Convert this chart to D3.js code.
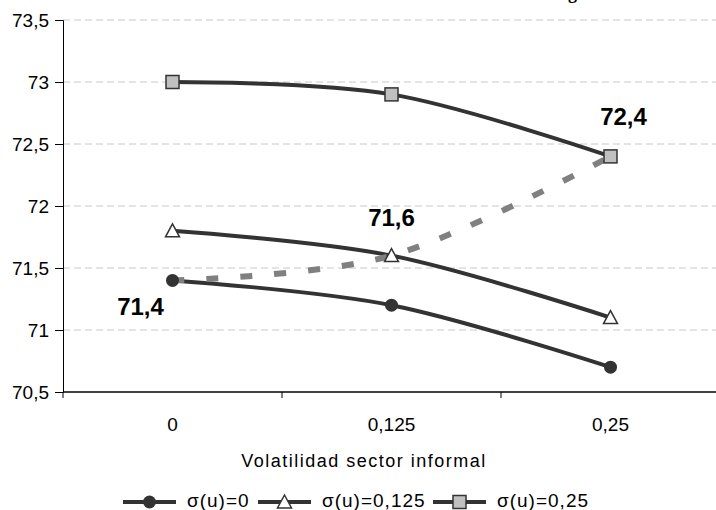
<!DOCTYPE html>
<html>
<head>
<meta charset="utf-8">
<script src="https://cdn.jsdelivr.net/npm/d3@7"></script>
<style>
  body { margin: 0; background: #fff; }
  text { font-family: "Liberation Sans", Arial, sans-serif; fill: #000; }
</style>
</head>
<body>
<div id="chart"></div>
<script>
// data
const categories = ["0", "0,125", "0,25"];
const seriesNames = ["σ(u)=0", "σ(u)=0,125", "σ(u)=0,25"];
const sigma0 = [71.4, 71.2, 70.7];
const sigma0125 = [71.8, 71.6, 71.1];
const sigma025 = [73.0, 72.9, 72.4];
const diagonal = [71.4, 71.6, 72.4];           // dashed grey line
const diagLabels = ["71,4", "71,6", "72,4"];
const yTicks = [70.5, 71, 71.5, 72, 72.5, 73, 73.5];

var W = 716, H = 510;
var margin = {top: 20, right: -4, bottom: 118, left: 63},
    width = W - margin.left - margin.right,
    height = H - margin.top - margin.bottom;

var svg = d3.select("#chart")
    .append("svg")
    .attr("width", W)
    .attr("height", H);

var g = svg.append("g")
    .attr("transform", "translate(" + margin.left + "," + margin.top + ")");

// cut off title from the top of the page
svg.append("text")
    .attr("x", 568)
    .attr("y", -1)
    .style("font-family", "'Liberation Serif', serif")
    .style("font-weight", "bold")
    .style("font-size", "18px")
    .text("g");

const x = d3.scaleBand()
    .domain(categories)
    .range([0, width]);
const y = d3.scaleLinear()
    .domain([70.5, 73.5])
    .range([height, 0]);

const fmt = d => String(d).replace(".", ",");

// grid
g.append("g")
  .selectAll("line")
  .data(yTicks.filter(d => d > 70.5))
  .enter().append("line")
    .attr("x1", 0)
    .attr("x2", width)
    .attr("y1", d => y(d))
    .attr("y2", d => y(d))
    .attr("stroke", "#c8c8c8")
    .attr("stroke-width", 1)
    .attr("stroke-dasharray", "7,4");

// y axis
var yAxis = g.append("g")
    .call(d3.axisLeft(y).tickValues(yTicks).tickFormat(fmt).tickSize(8).tickPadding(6));
yAxis.select(".domain").attr("stroke", "#000");
yAxis.selectAll(".tick line").attr("stroke", "#000");
yAxis.selectAll("text").style("font-size", "19px").attr("dy", "0.36em");

// x axis: labels under the categories, ticks on the boundaries
var xAxis = g.append("g")
    .attr("transform", "translate(0," + height + ")")
    .call(d3.axisBottom(x).tickSize(0).tickPadding(26));
xAxis.select(".domain").remove();
xAxis.selectAll("text").style("font-size", "19px");
g.append("line")
    .attr("x1", 0).attr("x2", width)
    .attr("y1", height).attr("y2", height)
    .attr("stroke", "#000").attr("stroke-width", 1.5);
g.append("g")
  .selectAll("line")
  .data(categories.concat(["end"]))
  .enter().append("line")
    .attr("x1", (d, i) => i * x.bandwidth())
    .attr("x2", (d, i) => i * x.bandwidth())
    .attr("y1", height)
    .attr("y2", height + 6)
    .attr("stroke", "#000");

g.append("text")
    .attr("x", 301)
    .attr("y", height + 75)
    .attr("text-anchor", "middle")
    .style("font-size", "18px")
    .style("letter-spacing", "1.5px")
    .text("Volatilidad sector informal");

const cx = (d, i) => x(categories[i]) + x.bandwidth() / 2;
const line = d3.line()
    .x(cx)
    .y(d => y(d))
    .curve(d3.curveCardinal.tension(0));

const series = [
  {name: seriesNames[0], values: sigma0, marker: "circle"},
  {name: seriesNames[1], values: sigma0125, marker: "triangle"},
  {name: seriesNames[2], values: sigma025, marker: "square"}
];

series.forEach(function(s) {
  g.append("path")
    .datum(s.values)
    .attr("fill", "none")
    .attr("stroke", "#333")
    .attr("stroke-width", 4)
    .attr("d", line);
});

g.append("path")
    .datum(diagonal)
    .attr("fill", "none")
    .attr("stroke", "#808080")
    .attr("stroke-width", 6)
    .attr("stroke-dasharray", "12,22")
    .attr("d", line);

function marker(sel, type) {
  if (type == "circle") {
    sel.append("circle").attr("r", 6.5).attr("fill", "#333");
  } else if (type == "triangle") {
    sel.append("path")
      .attr("d", "M0,-7L7,6L-7,6Z")
      .attr("fill", "#fff").attr("stroke", "#333").attr("stroke-width", 1.5);
  } else {
    sel.append("rect")
      .attr("x", -6.5).attr("y", -6.5).attr("width", 13).attr("height", 13)
      .attr("fill", "#c0c0c0").attr("stroke", "#333").attr("stroke-width", 1.5);
  }
}

series.forEach(function(s) {
  s.values.forEach(function(v, i) {
    var m = g.append("g").attr("transform", "translate(" + cx(v, i) + "," + y(v) + ")");
    marker(m, s.marker);
  });
});

// labels on the dashed line
const labelDx = [-32, 0, 13];
const labelDy = [35, -30, -31];
g.selectAll(".dlabel")
  .data(diagonal)
  .enter().append("text")
    .attr("class", "dlabel")
    .attr("x", (d, i) => cx(d, i) + labelDx[i])
    .attr("y", (d, i) => y(d) + labelDy[i])
    .attr("text-anchor", "middle")
    .style("font-size", "24px")
    .style("font-weight", "bold")
    .text((d, i) => diagLabels[i]);

// legend
const legX = [123, 258, 433];
const legend = svg.append("g").attr("transform", "translate(0,502)");
series.forEach(function(s, i) {
  var lg = legend.append("g").attr("transform", "translate(" + legX[i] + ",0)");
  lg.append("line")
    .attr("x1", 0).attr("x2", 53)
    .attr("stroke", "#333").attr("stroke-width", 4);
  marker(lg.append("g").attr("transform", "translate(26.5,0)"), s.marker);
  lg.append("text")
    .attr("x", 64)
    .attr("y", 5)
    .style("font-size", "19px")
    .style("letter-spacing", "1px")
    .text(s.name);
});
</script>
</body>
</html>
